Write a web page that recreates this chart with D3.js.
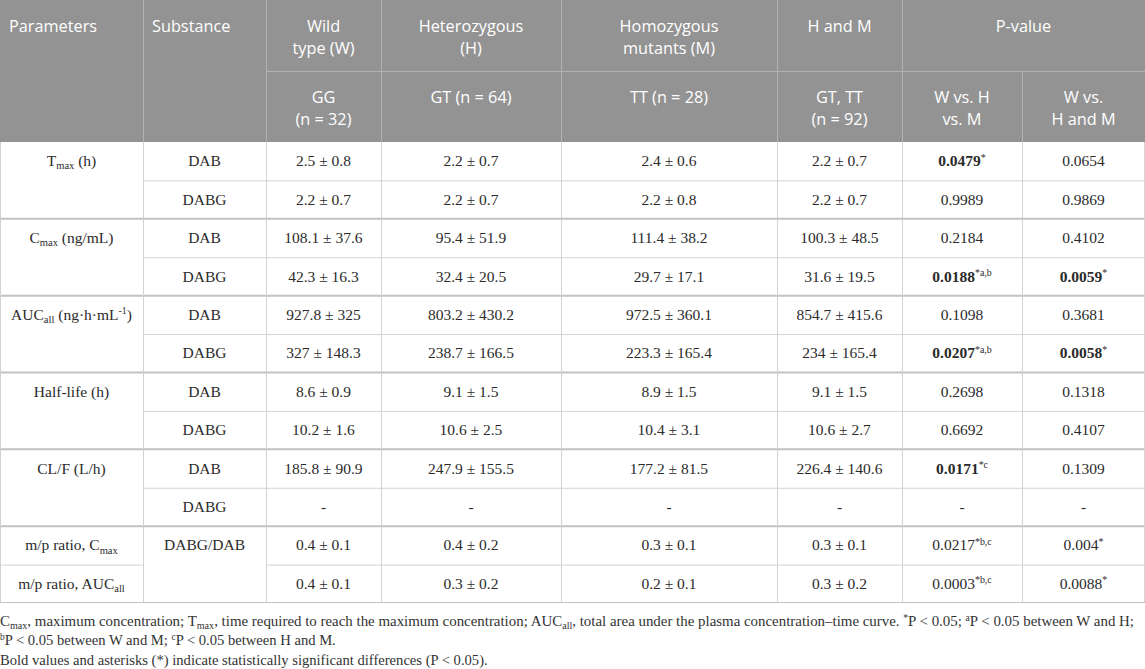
<!DOCTYPE html>
<html>
<head>
<meta charset="utf-8">
<script src="https://cdn.jsdelivr.net/npm/d3@7"></script>
<style>
  body { margin: 0; background: #fff; }
  svg { display: block; }
</style>
</head>
<body>
<div id="table"></div>
<script>
// markup: **bold**, _{sub}, ^{sup}
var headerTop = ["Parameters", "Substance", "Wild\ntype (W)", "Heterozygous\n(H)", "Homozygous\nmutants (M)", "H and M", "P-value"];
var headerSub = ["GG\n(n = 32)", "GT (n = 64)", "TT (n = 28)", "GT, TT\n(n = 92)", "W vs. H\nvs. M", "W vs.\nH and M"];

var parameters = ["T_{max} (h)", "C_{max} (ng/mL)", "AUC_{all} (ng·h·mL^{-1})", "Half-life (h)", "CL/F (L/h)", "m/p ratio, C_{max}", "m/p ratio, AUC_{all}"];
var paramRows = [[0, 1], [2, 3], [4, 5], [6, 7], [8, 9], [10, 10], [11, 11]];

var substances = ["DAB", "DABG", "DAB", "DABG", "DAB", "DABG", "DAB", "DABG", "DAB", "DABG", "DABG/DAB"];
var substRows = [[0, 0], [1, 1], [2, 2], [3, 3], [4, 4], [5, 5], [6, 6], [7, 7], [8, 8], [9, 9], [10, 11]];

var wild = ["2.5 ± 0.8", "2.2 ± 0.7", "108.1 ± 37.6", "42.3 ± 16.3", "927.8 ± 325", "327 ± 148.3", "8.6 ± 0.9", "10.2 ± 1.6", "185.8 ± 90.9", "-", "0.4 ± 0.1", "0.4 ± 0.1"];
var hetero = ["2.2 ± 0.7", "2.2 ± 0.7", "95.4 ± 51.9", "32.4 ± 20.5", "803.2 ± 430.2", "238.7 ± 166.5", "9.1 ± 1.5", "10.6 ± 2.5", "247.9 ± 155.5", "-", "0.4 ± 0.2", "0.3 ± 0.2"];
var homo = ["2.4 ± 0.6", "2.2 ± 0.8", "111.4 ± 38.2", "29.7 ± 17.1", "972.5 ± 360.1", "223.3 ± 165.4", "8.9 ± 1.5", "10.4 ± 3.1", "177.2 ± 81.5", "-", "0.3 ± 0.1", "0.2 ± 0.1"];
var hAndM = ["2.2 ± 0.7", "2.2 ± 0.7", "100.3 ± 48.5", "31.6 ± 19.5", "854.7 ± 415.6", "234 ± 165.4", "9.1 ± 1.5", "10.6 ± 2.7", "226.4 ± 140.6", "-", "0.3 ± 0.1", "0.3 ± 0.2"];
var pWHM = ["**0.0479**^{*}", "0.9989", "0.2184", "**0.0188**^{*a,b}", "0.1098", "**0.0207**^{*a,b}", "0.2698", "0.6692", "**0.0171**^{*c}", "-", "0.0217^{*b,c}", "0.0003^{*b,c}"];
var pWvsHM = ["0.0654", "0.9869", "0.4102", "**0.0059**^{*}", "0.3681", "**0.0058**^{*}", "0.1318", "0.4107", "0.1309", "-", "0.004^{*}", "0.0088^{*}"];

var footnotes = [
  "C_{max}, maximum concentration; T_{max}, time required to reach the maximum concentration; AUC_{all}, total area under the plasma concentration–time curve. ^{*}P < 0.05; ^{a}P < 0.05 between W and H;",
  "^{b}P < 0.05 between W and M; ^{c}P < 0.05 between H and M.",
  "Bold values and asterisks (*) indicate statistically significant differences (P < 0.05)."
];

var colWidths = [143, 123, 115, 180, 216, 125, 120, 123];

var width = 1145, height = 669;
var headH = 71, tableBottom = 603;

var svg = d3.select("#table")
  .append("svg")
    .attr("width", width)
    .attr("height", height);

var edges = [0].concat(Array.from(d3.cumsum(colWidths)));
var x = d3.scaleOrdinal().domain(d3.range(edges.length)).range(edges);
function xMid(i, j) { return (x(i) + x(j + 1)) / 2; }

var nRows = wild.length;
var y = d3.scaleBand()
  .domain(d3.range(nRows))
  .range([headH * 2, tableBottom])
  .padding(0);

// draw a string with **bold**, _{sub}, ^{sup} into a text element
function rich(text, str, size) {
  var parts = str.split(/(\*\*[^*]+\*\*|_\{[^}]*\}|\^\{[^}]*\})/).filter(function(s) { return s !== ""; });
  var shift = 0;
  parts.forEach(function(p) {
    var t = text.append("tspan"), dy = 0, txt = p;
    if (p.startsWith("**")) {
      txt = p.slice(2, -2);
      t.attr("font-weight", "bold");
    } else if (p.startsWith("_{")) {
      txt = p.slice(2, -1);
      t.attr("font-size", size * 0.68);
      dy = size * 0.2;
    } else if (p.startsWith("^{")) {
      txt = p.slice(2, -1);
      t.attr("font-size", size * 0.64);
      dy = -size * 0.36;
    }
    if (dy - shift !== 0) t.attr("dy", dy - shift);
    t.text(txt);
    shift = dy;
  });
}

// header background
svg.append("rect")
  .attr("x", 0).attr("y", 0)
  .attr("width", width).attr("height", headH * 2)
  .attr("fill", "#939393");

// header grid
var headLine = "#b3b3b3";
var hg = svg.append("g").attr("stroke", headLine).attr("stroke-width", 1);
[1, 2, 3, 4, 5, 6].forEach(function(i) {
  hg.append("line").attr("x1", x(i) + 0.5).attr("x2", x(i) + 0.5).attr("y1", 0).attr("y2", headH * 2);
});
hg.append("line").attr("x1", x(7) + 0.5).attr("x2", x(7) + 0.5).attr("y1", headH).attr("y2", headH * 2);
hg.append("line").attr("x1", x(2)).attr("x2", width).attr("y1", headH + 0.5).attr("y2", headH + 0.5);

// header text; the first two columns are left aligned
function headText(label, cx, top, anchor) {
  label.split("\n").forEach(function(line, k) {
    svg.append("text")
      .attr("x", cx)
      .attr("y", top + 26 + k * 22.5)
      .attr("dy", "0.36em")
      .attr("text-anchor", anchor)
      .attr("fill", "#fff")
      .style("font-family", "'Open Sans', 'Noto Sans', sans-serif")
      .style("font-size", "16.3px")
      .text(line);
  });
}
var headSpans = [[0, 0], [1, 1], [2, 2], [3, 3], [4, 4], [5, 5], [6, 7]];
headerTop.forEach(function(h, i) {
  var s = headSpans[i];
  if (i < 2) headText(h, x(s[0]) + 9, 0, "start");
  else headText(h, xMid(s[0], s[1]), 0, "middle");
});
headerSub.forEach(function(h, i) {
  headText(h, xMid(i + 2, i + 2), headH, "middle");
});

// body grid
var inner = "#d2d2d2", outer = "#c2c2c2";
var bg = svg.append("g");
var groupStarts = paramRows.map(function(r) { return r[0]; });
d3.range(1, nRows).forEach(function(r) {
  var yy = y(r);
  if (groupStarts.indexOf(r) >= 0 && r < 11) {
    bg.append("line").attr("x1", 0).attr("x2", width).attr("y1", yy).attr("y2", yy)
      .attr("stroke", outer).attr("stroke-width", 2);
  } else if (r === 11) {
    bg.append("line").attr("x1", 0).attr("x2", x(1)).attr("y1", yy + 0.5).attr("y2", yy + 0.5)
      .attr("stroke", inner).attr("stroke-width", 1);
    bg.append("line").attr("x1", x(2)).attr("x2", width).attr("y1", yy + 0.5).attr("y2", yy + 0.5)
      .attr("stroke", inner).attr("stroke-width", 1);
  } else {
    bg.append("line").attr("x1", x(1)).attr("x2", width).attr("y1", yy + 0.5).attr("y2", yy + 0.5)
      .attr("stroke", inner).attr("stroke-width", 1);
  }
});
edges.forEach(function(e, i) {
  var xx = i === 0 ? 0.5 : (i === edges.length - 1 ? e - 0.5 : e + 0.5);
  bg.append("line").attr("x1", xx).attr("x2", xx)
    .attr("y1", headH * 2).attr("y2", tableBottom)
    .attr("stroke", inner).attr("stroke-width", 1);
});
bg.append("line").attr("x1", 0).attr("x2", width)
  .attr("y1", tableBottom - 0.5).attr("y2", tableBottom - 0.5)
  .attr("stroke", outer).attr("stroke-width", 1);

// body text
var bodySize = 15.5;
function cellText(str, col, row) {
  var t = svg.append("text")
    .attr("x", xMid(col, col))
    .attr("y", y(row) + y.bandwidth() / 2 + bodySize * 0.33)
    .attr("text-anchor", "middle")
    .attr("fill", "#2b2b2b")
    .style("font-family", "'Liberation Serif', 'DejaVu Serif', serif")
    .style("font-size", bodySize + "px");
  rich(t, str, bodySize);
}

parameters.forEach(function(p, i) { cellText(p, 0, paramRows[i][0]); });
substances.forEach(function(s, i) { cellText(s, 1, substRows[i][0]); });
[wild, hetero, homo, hAndM, pWHM, pWvsHM].forEach(function(series, c) {
  series.forEach(function(v, r) { cellText(v, c + 2, r); });
});

// footnotes
var noteSize = 14.6;
footnotes.forEach(function(f, i) {
  var t = svg.append("text")
    .attr("x", 0)
    .attr("y", 621 + i * 19.5 + noteSize * 0.33)
    .attr("fill", "#333")
    .style("font-family", "'Liberation Serif', 'DejaVu Serif', serif")
    .style("font-size", noteSize + "px");
  rich(t, f, noteSize);
  if (i === 0) {
    t.attr("textLength", 1134).attr("lengthAdjust", "spacingAndGlyphs");
  }
});
</script>
</body>
</html>
